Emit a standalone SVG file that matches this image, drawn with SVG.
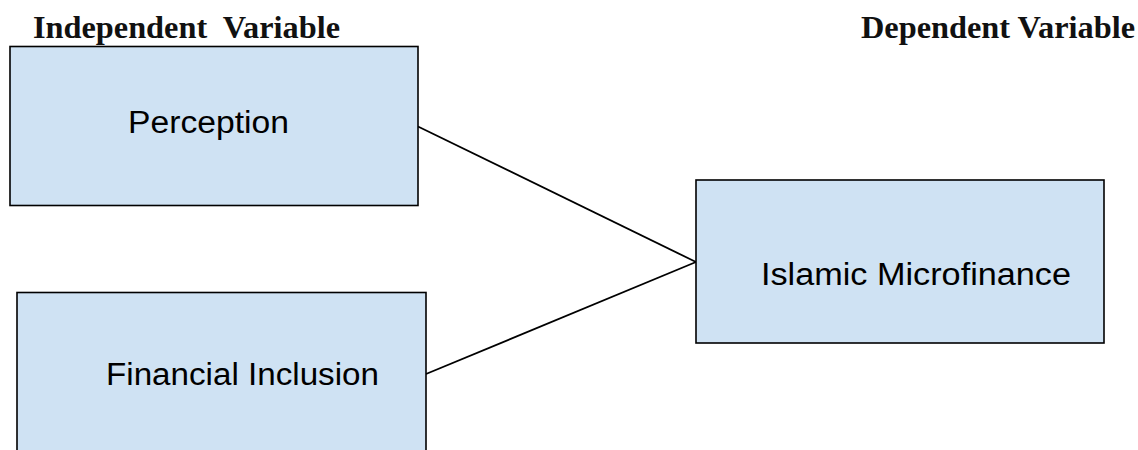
<svg xmlns="http://www.w3.org/2000/svg" width="1138" height="450" viewBox="0 0 1138 450">
<style>
.box{fill:#cfe2f3;stroke:#000;stroke-width:1.6}
.hdr{font-family:"Liberation Serif","Times New Roman",serif;font-weight:bold;font-size:32px;fill:#111;white-space:pre}
.lbl{font-family:"Liberation Sans",Arial,sans-serif;font-size:31px;fill:#000}
.conn{stroke:#000;stroke-width:1.8;fill:none}
</style>
<rect width="1138" height="450" fill="#fff"/>
<text class="hdr" x="33" y="38" textLength="307" lengthAdjust="spacingAndGlyphs" xml:space="preserve">Independent  Variable</text>
<text class="hdr" x="861" y="38" textLength="274" lengthAdjust="spacingAndGlyphs">Dependent Variable</text>
<g id="connectors">
<line class="conn" x1="418" y1="126.5" x2="696" y2="262"/>
<line class="conn" x1="426" y1="374" x2="696" y2="262"/>
</g>
<g id="perception">
<rect class="box" x="10" y="46.5" width="408" height="159"/>
<text class="lbl" x="128" y="133" textLength="161" lengthAdjust="spacingAndGlyphs">Perception</text>
</g>
<g id="financial-inclusion">
<rect class="box" x="17" y="292.5" width="409" height="170"/>
<text class="lbl" x="106" y="385" textLength="273" lengthAdjust="spacingAndGlyphs">Financial Inclusion</text>
</g>
<g id="islamic-microfinance">
<rect class="box" x="696" y="180" width="408" height="163"/>
<text class="lbl" x="761" y="285" textLength="310" lengthAdjust="spacingAndGlyphs">Islamic Microfinance</text>
</g>
</svg>
